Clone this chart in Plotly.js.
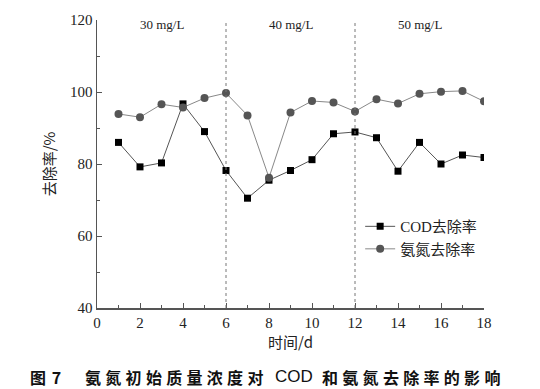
<!DOCTYPE html>
<html><head><meta charset="utf-8">
<script src="https://cdn.plot.ly/plotly-3.0.1.min.js"></script>
<style>html,body{margin:0;padding:0;background:#fff}#chart{width:540px;height:389px}</style>
</head><body><div id="chart"></div>
<script>
const days = [1,2,3,4,5,6,7,8,9,10,11,12,13,14,15,16,17,18];
const codRemoval = [86.0,79.2,80.3,96.7,89.0,78.2,70.5,75.5,78.2,81.2,88.4,88.9,87.3,78.0,86.0,80.0,82.5,81.8];
const nh3Removal = [93.9,93.0,96.6,95.7,98.3,99.7,93.5,76.2,94.3,97.5,97.1,94.6,98.0,96.8,99.5,100.1,100.3,97.4];
const seriesNames = ["COD去除率","氨氮去除率"];
const phaseBounds = [6,12];
const phaseLabels = ["30 mg/L","40 mg/L","50 mg/L"];
const phaseCenters = [3,9,15];
const xTitle = "时间/d";
const yTitle = "去除率/%";
const captionParts = ["图 7", "氨氮初始质量浓度对", "COD", "和氨氮去除率的影响"];

const serif = "Liberation Serif, Times New Roman, Noto Sans CJK SC, serif";
const traces = [
  {x: days, y: codRemoval, name: seriesNames[0], mode: "lines+markers",
   line: {color: "#555", width: 1}, marker: {symbol: "square", size: 7, color: "#000"}},
  {x: days, y: nh3Removal, name: seriesNames[1], mode: "lines+markers",
   line: {color: "#888", width: 1}, marker: {symbol: "circle", size: 8, color: "#555"}}
];
const shapes = phaseBounds.map(b => ({type: "line", xref: "x", yref: "paper", x0: b, x1: b, y0: 0, y1: 1,
  line: {color: "#777", width: 1, dash: "dot"}}));
const annotations = phaseLabels.map((t, i) => ({x: phaseCenters[i], xref: "x", y: 0.983, yref: "paper",
  yanchor: "middle", text: t, showarrow: false, font: {family: serif, size: 13, color: "#222"}}));
const capX = [-0.1783, -0.0362, 0.4548, 0.5762];
captionParts.forEach((t, i) => {
  const isLatin = (i === 2);
  annotations.push({x: capX[i], xref: "paper", xanchor: "left", align: "left",
    y: -0.238, yref: "paper", yanchor: "middle",
    text: isLatin ? t : "<b>" + t + "</b>", showarrow: false,
    font: {family: isLatin ? "Liberation Sans, Arial, sans-serif" : "Noto Sans CJK SC", size: isLatin ? 17 : 16, color: "#111"}});
});

const layout = {
  width: 540, height: 389,
  margin: {l: 97, r: 56, t: 20, b: 81},
  paper_bgcolor: "#fff", plot_bgcolor: "#fff",
  showlegend: true,
  legend: {x: 0.68, y: 0.34, xanchor: "left", yanchor: "top", bgcolor: "rgba(0,0,0,0)",
    font: {family: serif, size: 15, color: "#222"}, tracegroupgap: 0, itemwidth: 30},
  xaxis: {range: [0, 18], dtick: 2, tick0: 0, showgrid: false, zeroline: false,
    showline: true, linecolor: "#555", linewidth: 1.5, ticks: "inside", ticklen: 5, tickcolor: "#555",
    minor: {dtick: 1, ticks: "inside", ticklen: 3, tickcolor: "#555", showgrid: false},
    tickfont: {family: serif, size: 15, color: "#222"},
    title: {text: xTitle, font: {family: "Noto Sans CJK SC", size: 15, color: "#222"}, standoff: 8}},
  yaxis: {range: [40, 120], dtick: 20, tick0: 40, showgrid: false, zeroline: false,
    showline: true, linecolor: "#555", linewidth: 1.5, ticks: "inside", ticklen: 5, tickcolor: "#555",
    minor: {dtick: 10, ticks: "inside", ticklen: 3, tickcolor: "#555", showgrid: false},
    tickfont: {family: serif, size: 15, color: "#222"},
    title: {text: yTitle, font: {family: "Noto Sans CJK SC", size: 15, color: "#222"}, standoff: 11}},
  shapes: shapes,
  annotations: annotations
};
Plotly.newPlot("chart", traces, layout, {displayModeBar: false, staticPlot: true}).then(gd => {
  gd.querySelectorAll(".annotation-text").forEach(el => {
    const t = el.textContent;
    if (t === captionParts[1] || t === captionParts[3]) el.style.letterSpacing = "4.3px";
    if (t === captionParts[0]) el.style.letterSpacing = "1px";
  });
});
</script></body></html>
